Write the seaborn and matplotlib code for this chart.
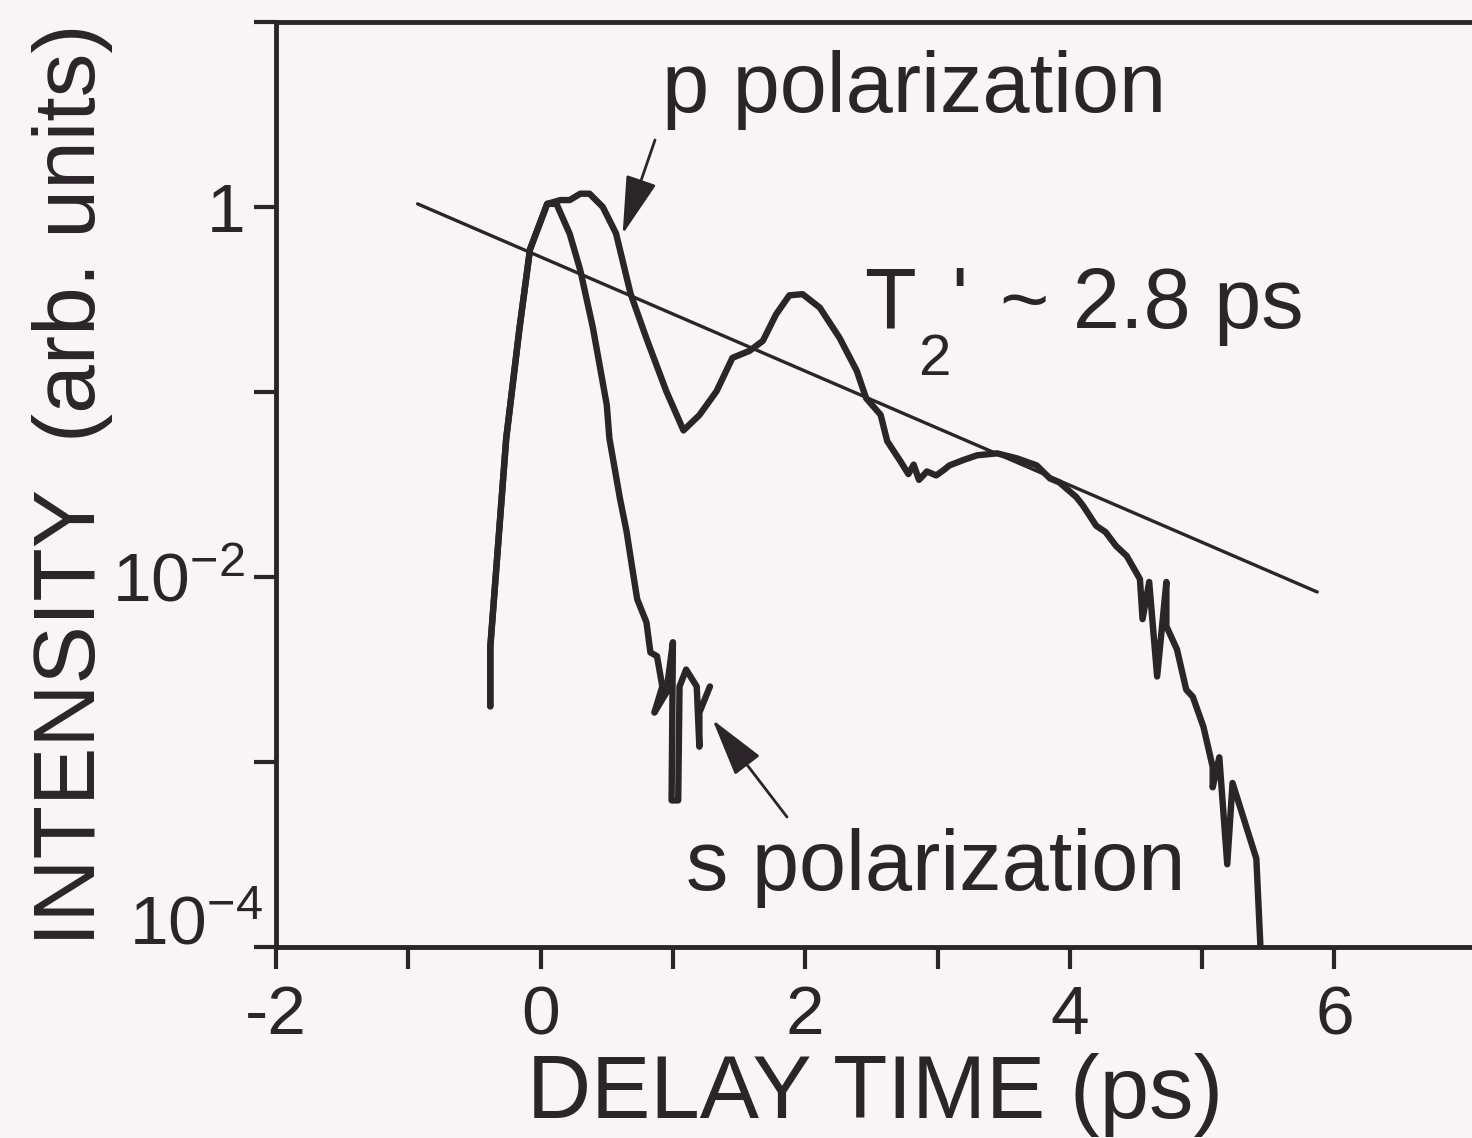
import matplotlib
matplotlib.use("Agg")
import matplotlib.pyplot as plt
import matplotlib.transforms as mtransforms
from matplotlib.ticker import NullLocator, FixedLocator
import pandas as pd
import seaborn as sns

# ---------------- data ----------------
p_time = [-0.38, -0.38, -0.26, -0.16, -0.08, 0.05, 0.15, 0.22, 0.30, 0.37, 0.47, 0.57,
          0.68, 0.80, 0.95, 1.08, 1.20, 1.33, 1.45, 1.58, 1.68, 1.78, 1.88, 1.98, 2.11,
          2.26, 2.39, 2.46, 2.57, 2.62, 2.72, 2.78, 2.82, 2.86, 2.92, 2.99, 3.05, 3.09,
          3.20, 3.30, 3.45, 3.60, 3.75, 3.85, 3.92, 4.00, 4.05, 4.10, 4.20, 4.27, 4.35,
          4.43, 4.53, 4.55, 4.60, 4.66, 4.73, 4.73, 4.81, 4.88, 4.93, 5.01, 5.08, 5.08,
          5.13, 5.19, 5.23, 5.41, 5.44, 5.44]
p_intensity = [2.0e-3, 4.2e-3, 5.6e-2, 0.22, 0.59, 1.04, 1.09, 1.09, 1.18, 1.18, 1.00, 0.72,
               0.34, 0.195, 0.101, 0.062, 0.075, 0.101, 0.153, 0.167, 0.189, 0.263, 0.333,
               0.338, 0.286, 0.196, 0.130, 0.0927, 0.0753, 0.0542, 0.0422, 0.0360, 0.0405,
               0.0335, 0.0372, 0.0354, 0.0380, 0.0401, 0.0430, 0.0455, 0.0466, 0.0438, 0.0401,
               0.0341, 0.0325, 0.0290, 0.0270, 0.0243, 0.0189, 0.0175, 0.0147, 0.0130,
               0.00975, 0.00592, 0.00940, 0.00290, 0.00940, 0.00542, 0.00406, 0.00246,
               0.00225, 0.00155, 0.00094, 0.00073, 0.00106, 0.00028, 0.00077, 0.00030,
               0.000104, 0.00006]

s_time = [-0.38, -0.38, -0.26, -0.16, -0.08, 0.05, 0.12, 0.22, 0.30, 0.395, 0.50, 0.52,
          0.60, 0.65, 0.69, 0.73, 0.80, 0.83, 0.88, 0.92, 0.86, 0.95, 1.00, 0.99, 1.04,
          1.05, 1.10, 1.18, 1.20, 1.20, 1.28]
s_intensity = [2.0e-3, 4.2e-3, 5.6e-2, 0.22, 0.59, 1.04, 1.04, 0.716, 0.455, 0.223, 0.0853,
               0.0562, 0.0265, 0.0176, 0.0115, 0.00759, 0.00569, 0.00391, 0.00373, 0.00256,
               0.00185, 0.00237, 0.00444, 0.00062, 0.00062, 0.00256, 0.00316, 0.00256,
               0.00121, 0.00185, 0.00256]

fit_time = [-0.93, 5.87]
fit_intensity = [1.04, 0.0083]

x_major_ticks = [-2, 0, 2, 4, 6]
x_minor_ticks = [-1, 1, 3, 5]
x_tick_labels = ["-2", "0", "2", "4", "6"]
y_ticks = [1e-4, 1e-3, 1e-2, 1e-1, 1, 10]
y_tick_labels = [r"$10^{-4}$", "", r"$10^{-2}$", "", "1", ""]

# ---------------- style ----------------
INK = "#2b2428"
BG = "#f7f5f6"
sns.set_theme(style="ticks")
plt.rcParams.update({
    "font.family": ["Liberation Sans", "DejaVu Sans"],
    "mathtext.fontset": "custom",
    "mathtext.rm": "Liberation Sans",
    "mathtext.it": "Liberation Sans:italic",
    "mathtext.bf": "Liberation Sans:bold",
    "mathtext.sf": "Liberation Sans",
    "text.color": INK,
    "axes.edgecolor": INK,
    "axes.labelcolor": INK,
    "xtick.color": INK,
    "ytick.color": INK,
})

W, H = 1472, 1138
fig = plt.figure(figsize=(W / 100, H / 100), dpi=100, facecolor=BG)
L, R, B, T = 276, 1472, 947, 22
ax = fig.add_axes([L / W, 1 - B / H, (R - L) / W, (B - T) / H])
ax.set_facecolor(BG)
ax.set_yscale("log")
ax.set_xlim(-2, 7.04)
ax.set_ylim(1e-4, 10)

df_p = pd.DataFrame({"t": p_time, "I": p_intensity})
df_s = pd.DataFrame({"t": s_time, "I": s_intensity})
df_fit = pd.DataFrame({"t": fit_time, "I": fit_intensity})

sns.lineplot(data=df_fit, x="t", y="I", sort=False, estimator=None, color=INK, lw=2.4, ax=ax)
sns.lineplot(data=df_s, x="t", y="I", sort=False, estimator=None, color=INK, lw=4.6, ax=ax)
sns.lineplot(data=df_p, x="t", y="I", sort=False, estimator=None, color=INK, lw=4.6, ax=ax)

# spines / ticks
ax.spines["right"].set_visible(False)
for s in ("left", "bottom", "top"):
    ax.spines[s].set_linewidth(3.5)

ax.xaxis.set_major_locator(FixedLocator(x_major_ticks))
ax.set_xticklabels(x_tick_labels)
ax.xaxis.set_minor_locator(FixedLocator(x_minor_ticks))
ax.set_yticks(y_ticks)
ax.set_yticklabels(y_tick_labels)
ax.yaxis.set_minor_locator(NullLocator())
ax.tick_params(axis="both", which="both", direction="out", length=16, width=3, top=False, right=False)
ax.tick_params(axis="x", which="major", labelsize=50, pad=11)
ax.tick_params(axis="y", which="major", labelsize=50, pad=6)

ax.set_xlabel("DELAY TIME (ps)", fontsize=64, va="baseline")
ax.xaxis.set_label_coords((875 - L) / (R - L), (B - 1118) / (B - T))
ax.set_ylabel("INTENSITY  (arb. units)", fontsize=63, va="baseline")
ax.yaxis.set_label_coords((95 - L) / (R - L), 0.5)

# annotations (positions in figure pixels, arrow tips at data points)
def fp(x, y):
    return (x, H - y)

fs = 61
fig.text(662 / W, 1 - 112 / H, "p polarization", fontsize=fs, ha="left", va="baseline")
fig.text(686 / W, 1 - 890 / H, "s polarization", fontsize=fs, ha="left", va="baseline")
fig.text(864 / W, 1 - 328 / H, "T", fontsize=fs, ha="left", va="baseline")
fig.text(918 / W, 1 - 375 / H, "2", fontsize=42, ha="left", va="baseline")
fig.text(951 / W, 1 - 326 / H, "'", fontsize=fs, ha="left", va="baseline")
fig.text(1000 / W, 1 - 328 / H, "~ 2.8 ps", fontsize=fs, ha="left", va="baseline")

arrow = dict(arrowstyle="-|>,head_length=1.4,head_width=0.38", color=INK, lw=2.0,
             shrinkA=0, shrinkB=0, mutation_scale=26)
ax.annotate("", xy=(0.62, 0.713), xycoords="data", xytext=fp(655, 140),
            textcoords="figure pixels", arrowprops=arrow)
ax.annotate("", xy=(1.30, 0.00169), xycoords="data", xytext=fp(787, 817),
            textcoords="figure pixels", arrowprops=arrow)

# lift the bottom tick label (10^-4) above the corner, as in the original
fig.canvas.draw()
for tick in ax.yaxis.get_major_ticks():
    if tick.get_loc() == 1e-4:
        tick.label1.set_transform(tick.label1.get_transform() +
                                  mtransforms.ScaledTranslation(0.18, 0.28, fig.dpi_scale_trans))

fig.savefig("out.png", dpi=100, facecolor=BG)
